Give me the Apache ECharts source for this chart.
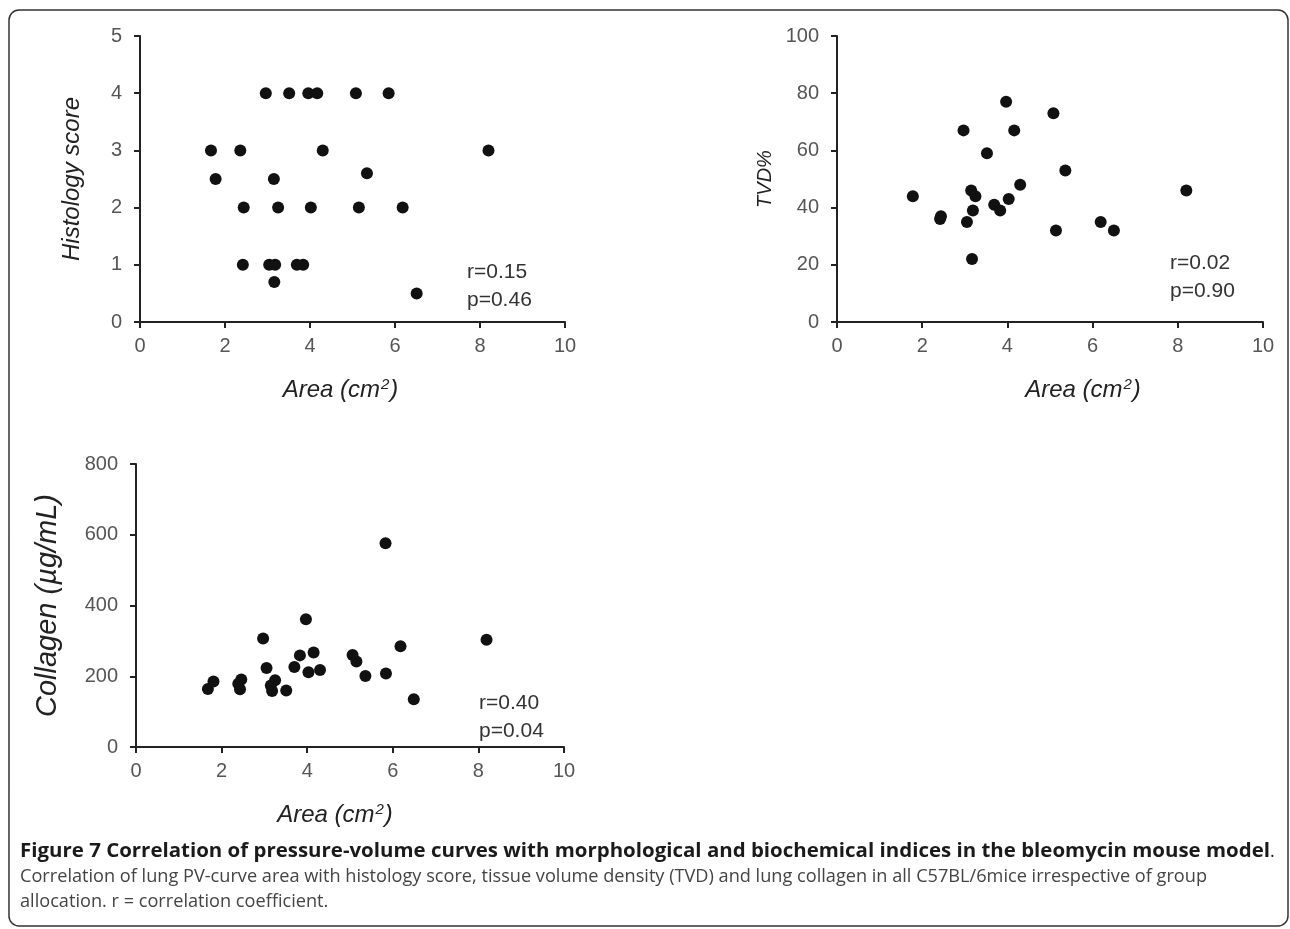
<!DOCTYPE html>
<html>
<head>
<meta charset="utf-8">
<script src="https://cdn.jsdelivr.net/npm/echarts@6/dist/echarts.min.js"></script>
<style>
  html, body { margin: 0; padding: 0; background: #fff; }
  #main { width: 1290px; height: 929px; }
</style>
</head>
<body>
<div id="main"></div>
<script>
// panel 1: histology score vs PV-curve area
const histArea = [2.96, 3.51, 3.96, 4.17, 5.08, 5.85, 1.67, 2.36, 4.30, 8.20, 1.78, 3.15, 5.34,
  2.44, 3.25, 4.02, 5.15, 6.18, 2.42, 3.04, 3.18, 3.69, 3.84, 3.16, 6.51];
const histScore = [4, 4, 4, 4, 4, 4, 3, 3, 3, 3, 2.5, 2.5, 2.6,
  2, 2, 2, 2, 2, 1, 1, 1, 1, 1, 0.7, 0.5];

// panel 2: TVD% vs area
const tvdArea = [3.97, 5.08, 2.97, 4.16, 3.52, 5.36, 4.30, 8.20, 3.15, 3.25, 1.78,
  4.03, 3.69, 3.83, 3.19, 2.44, 2.42, 3.05, 6.19, 5.14, 6.50, 3.17];
const tvdValue = [77, 73, 67, 67, 59, 53, 48, 46, 46, 44, 44,
  43, 41, 39, 39, 37, 36, 35, 35, 32, 32, 22];

// panel 3: collagen vs area
const colArea = [5.83, 3.97, 2.97, 8.19, 6.18, 3.83, 4.15, 5.06, 5.15, 3.05, 3.70, 4.03, 4.30,
  5.36, 5.84, 1.81, 1.68, 2.46, 2.39, 2.43, 3.25, 3.15, 3.18, 3.51, 6.49];
const colValue = [576, 361, 307, 303, 285, 259, 267, 260, 242, 223, 226, 211, 218,
  201, 208, 185, 164, 191, 179, 163, 189, 174, 158, 160, 135];

const stats = [["r=0.15", "p=0.46"], ["r=0.02", "p=0.90"], ["r=0.40", "p=0.04"]];
const yNames = ["Histology score", "TVD%", "Collagen (\u00b5g/mL)"];
const yMax = [5, 100, 800];
const yStep = [1, 20, 200];

const captionTitle = "Figure 7 Correlation of pressure-volume curves with morphological and biochemical indices in the bleomycin mouse model";
const captionLines = [
  "Correlation of lung PV-curve area with histology score, tissue volume density (TVD) and lung collagen in all C57BL/6mice irrespective of group",
  "allocation. r = correlation coefficient."
];

const FONT = "'Liberation Sans', Arial, sans-serif";
const CAP_FONT = "'Open Sans', 'Noto Sans', sans-serif";

// squeeze caption lines horizontally to the width they take in the figure
const measureCtx = document.createElement("canvas").getContext("2d");
function fitScale(text, font, target) {
  measureCtx.font = font;
  return target / measureCtx.measureText(text).width;
}

let chart = echarts.init(document.getElementById("main"));

const grids = [
  { left: 140, top: 36, width: 425, height: 286 },
  { left: 837, top: 36, width: 426, height: 286 },
  { left: 136, top: 464, width: 428, height: 283 }
];
const xNamePad = [[0, 24, 0, 0], [0, 0, 0, 66], [0, 30, 0, 0]];
const yNameGap = [56, 62, 74];
const yNameSize = [24, 20, 29];

const axisLine = { show: true, lineStyle: { color: "#222", width: 2 } };
const axisTick = { show: true, inside: false, length: 6, lineStyle: { color: "#222", width: 2 } };
const tickLabel = { color: "#555", fontSize: 20, fontFamily: FONT };

const xAxes = grids.map((g, i) => ({
  type: "value",
  gridIndex: i,
  min: 0,
  max: 10,
  interval: 2,
  splitLine: { show: false },
  axisLine: axisLine,
  axisTick: axisTick,
  axisLabel: Object.assign({ margin: 14 }, tickLabel),
  name: "Area (cm{sup|2})",
  nameLocation: "middle",
  nameGap: 55,
  nameTextStyle: {
    color: "#222",
    fontSize: 24,
    fontStyle: "italic",
    fontFamily: FONT,
    padding: xNamePad[i],
    rich: {
      sup: { fontSize: 15, fontStyle: "italic", fontFamily: FONT, color: "#222", verticalAlign: "top", lineHeight: 26, padding: [0, 1, 0, 1] }
    }
  }
}));

const yAxes = grids.map((g, i) => ({
  type: "value",
  gridIndex: i,
  min: 0,
  max: yMax[i],
  interval: yStep[i],
  splitLine: { show: false },
  axisLine: axisLine,
  axisTick: axisTick,
  axisLabel: Object.assign({ margin: 18 }, tickLabel),
  name: yNames[i],
  nameLocation: "middle",
  nameGap: yNameGap[i],
  nameTextStyle: { color: "#222", fontSize: yNameSize[i], fontStyle: "italic", fontFamily: FONT }
}));

function pairs(xs, ys) {
  return xs.map((x, k) => [x, ys[k]]);
}

const seriesData = [pairs(histArea, histScore), pairs(tvdArea, tvdValue), pairs(colArea, colValue)];

const series = seriesData.map((d, i) => ({
  type: "scatter",
  xAxisIndex: i,
  yAxisIndex: i,
  data: d,
  symbol: "circle",
  symbolSize: 12,
  itemStyle: { color: "#111", opacity: 1 },
  emphasis: { disabled: true },
  silent: true
}));

// stats text positions (pixels) next to each panel
const statPos = [[467, 272], [1170, 263], [479, 703]];
const graphic = [
  {
    type: "rect",
    shape: { x: 9, y: 10, width: 1279, height: 916, r: 10 },
    style: { fill: "none", stroke: "#333", lineWidth: 1.5 }
  }
];
statPos.forEach((p, i) => {
  stats[i].forEach((t, k) => {
    graphic.push({
      type: "text",
      x: p[0],
      y: p[1] + k * 28,
      style: { text: t, font: "21px " + FONT, fill: "#333", verticalAlign: "middle" }
    });
  });
});

const titleFont = "bold 19px " + CAP_FONT;
const bodyFont = "18px " + CAP_FONT;
graphic.push({
  type: "text",
  x: 20,
  y: 852,
  scaleX: fitScale(captionTitle, titleFont, 1250),
  style: { text: captionTitle, font: titleFont, fill: "#1a1a1a", verticalAlign: "middle" }
});
graphic.push({
  type: "text",
  x: 1270,
  y: 852,
  style: { text: ".", font: bodyFont, fill: "#1a1a1a", verticalAlign: "middle" }
});
const bodyScale = fitScale(captionLines[0], bodyFont, 1187);
captionLines.forEach((t, k) => {
  graphic.push({
    type: "text",
    x: 20,
    y: 877 + k * 25,
    scaleX: bodyScale,
    style: { text: t, font: bodyFont, fill: "#444", verticalAlign: "middle" }
  });
});

chart.setOption({
  animation: false,
  backgroundColor: "#fff",
  grid: grids,
  xAxis: xAxes,
  yAxis: yAxes,
  series: series,
  graphic: graphic
});
</script>
</body>
</html>
